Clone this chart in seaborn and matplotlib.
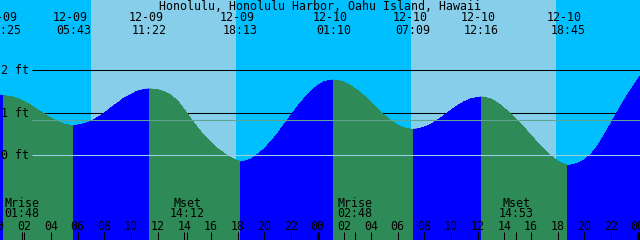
import numpy as np
import pandas as pd
import matplotlib
matplotlib.use("Agg")
import matplotlib.pyplot as plt
import seaborn as sns
from matplotlib.transforms import blended_transform_factory

# ---------------- data ----------------
title = "Honolulu, Honolulu Harbor, Oahu Island, Hawaii"
days = ["12-09", "12-10"]

# water level (ft) every half hour from 12-09 00:00, plus right edge reading
sample_times = [0, 0.5, 1, 1.5, 2, 2.5, 3, 3.5, 4, 4.5, 5, 5.5, 6, 6.5, 7, 7.5,
                8, 8.5, 9, 9.5, 10, 10.5, 11, 11.5, 12, 12.5, 13, 13.5, 14, 14.5,
                15, 15.5, 16, 16.5, 17, 17.5, 18, 18.5, 19, 19.5, 20, 20.5, 21,
                21.5, 22, 22.5, 23, 23.5, 24, 24.5, 25, 25.5, 26, 26.5, 27, 27.5,
                28, 28.5, 29, 29.5, 30, 30.5, 31, 31.5, 32, 32.5, 33, 33.5, 34,
                34.5, 35, 35.5, 36, 36.5, 37, 37.5, 38, 38.5, 39, 39.5, 40, 40.5,
                41, 41.5, 42, 42.5, 43, 43.5, 44, 44.5, 45, 45.5, 46, 46.5, 47,
                47.5, 48, 48.2]
sample_levels = [1.39, 1.40, 1.38, 1.33, 1.26, 1.17, 1.07, 0.97, 0.87, 0.79, 0.73,
                 0.70, 0.71, 0.74, 0.80, 0.89, 0.99, 1.12, 1.23, 1.35, 1.43, 1.51,
                 1.55, 1.56, 1.54, 1.49, 1.41, 1.27, 1.07, 0.85, 0.64, 0.45, 0.29,
                 0.15, 0.04, -0.06, -0.13, -0.14, -0.09, 0.02, 0.15, 0.32, 0.51,
                 0.73, 0.94, 1.15, 1.34, 1.51, 1.64, 1.73, 1.765, 1.76, 1.72, 1.63,
                 1.52, 1.39, 1.24, 1.09, 0.94, 0.81, 0.71, 0.64, 0.61, 0.62, 0.66,
                 0.73, 0.83, 0.94, 1.06, 1.17, 1.26, 1.33, 1.36, 1.365, 1.32, 1.23,
                 1.10, 0.97, 0.81, 0.64, 0.46, 0.29, 0.13, -0.02, -0.14, -0.21,
                 -0.23, -0.19, -0.11, 0.02, 0.22, 0.48, 0.75, 1.03, 1.30, 1.55,
                 1.78, 1.86]

# high / low tide events
tide_day = [0, 0, 0, 0, 1, 1, 1, 1]
tide_clock = ["00:25", "05:43", "11:22", "18:13", "01:10", "07:09", "12:16", "18:45"]
tide_levels = [1.40, 0.70, 1.56, -0.15, 1.77, 0.61, 1.37, -0.24]

# moon events
moon_day = [0, 0, 1, 1]
moon_name = ["Mrise", "Mset", "Mrise", "Mset"]
moon_clock = ["01:48", "14:12", "02:48", "14:53"]

# sun
sunrise_clock = ["07:00", "07:00"]
sunset_clock = ["17:52", "17:52"]

ft_labels = ["2 ft", "1 ft", "0 ft"]
ft_levels = [2, 1, 0]
mean_level = 0.82
hour_labels = ["00", "02", "04", "06", "08", "10", "12", "14", "16", "18", "20", "22"]

# ---------------- style ----------------
NIGHT = "#00BFFF"
DAY = "#87CEEB"
RISE = "#0000FF"
FALL = "#2E8B57"
MSL = "#5fa593"
DATUM = "#9ad0e4"

sns.set_theme(style="white")
plt.rcParams["font.family"] = ["DejaVu Sans Mono", "DejaVu Sans"]
FS = 8.4


def clock_to_h(day, s):
    hh, mm = s.split(":")
    return day * 24 + int(hh) + int(mm) / 60.0


tide_t = [clock_to_h(d, s) for d, s in zip(tide_day, tide_clock)]
moon_t = [clock_to_h(d, s) for d, s in zip(moon_day, moon_clock)]
rise_t = [clock_to_h(i, s) for i, s in enumerate(sunrise_clock)]
set_t = [clock_to_h(i, s) for i, s in enumerate(sunset_clock)]

df = pd.DataFrame({"t": sample_times + tide_t, "level": sample_levels + tide_levels})
df = df.sort_values("t").drop_duplicates("t").reset_index(drop=True)

fig = plt.figure(figsize=(6.4, 2.4), dpi=100)
ax = fig.add_axes([0, 0, 1, 1])
PX_PER_H = 320 / 24.0
X0 = -2.3
t_left = -X0 / PX_PER_H
t_right = (640 - X0) / PX_PER_H
ax.set_xlim(t_left, t_right)
ax.set_ylim((155.3 - 240) / 42.5, 155.3 / 42.5)
ax.set_facecolor(NIGHT)
for s in ax.spines.values():
    s.set_visible(False)

for r, st in zip(rise_t, set_t):
    ax.axvspan(r, st, color=DAY, lw=0, zorder=0)

gutter = t_left + 32 / PX_PER_H
ax.hlines([1, 2], gutter, t_right + 1, color="black", lw=0.75, zorder=1)

# tide fill, split at extremes (blue = rising, green = falling)
bounds = [-np.inf] + tide_t + [np.inf]
for a, b in zip(bounds[:-1], bounds[1:]):
    seg = df[(df.t >= a - 1e-9) & (df.t <= b + 1e-9)]
    if len(seg) < 2:
        continue
    col = RISE if seg.level.iloc[-1] > seg.level.iloc[0] else FALL
    ax.fill_between(seg.t, seg.level, -5, color=col, lw=0, antialiased=False, zorder=2)
    sns.lineplot(data=seg, x="t", y="level", color=col, lw=0.6, ax=ax, zorder=2.5,
                 sort=True, estimator=None)
ax.set_xlabel("")
ax.set_ylabel("")
ax.set_xticks([])
ax.set_yticks([])
ax.set_xlim(t_left, t_right)
ax.set_ylim((155.3 - 240) / 42.5, 155.3 / 42.5)

ax.hlines([mean_level], gutter, t_right + 1, color=MSL, lw=0.75, zorder=4)
ax.hlines([0], gutter, t_right + 1, color=DATUM, lw=0.75, zorder=4)

bt = blended_transform_factory(ax.transData, ax.transAxes)


def yf(py):
    return 1 - py / 240.0


# title
ax.text(0.5, yf(10), title, transform=ax.transAxes, ha="center", va="baseline",
        fontsize=FS, color="black", zorder=6)

# tide event labels
for d, s, t in zip(tide_day, tide_clock, tide_t):
    ax.text(t - 0.25, yf(21), days[d], transform=bt, ha="center", va="baseline",
            fontsize=FS, color="black", zorder=6)
    ax.text(t, yf(34), s, transform=bt, ha="center", va="baseline",
            fontsize=FS, color="black", zorder=6)

# level labels
for lab, lv in zip(ft_labels, ft_levels):
    py = 155.3 - 42.5 * lv + 4
    ax.text(t_left + 1 / PX_PER_H, yf(py), lab, transform=bt, ha="left",
            va="baseline", fontsize=FS, color="black", zorder=6)

# moon labels
for n, s, t in zip(moon_name, moon_clock, moon_t):
    ax.text(t, yf(207), n, transform=bt, ha="center", va="baseline",
            fontsize=FS, color="black", zorder=6)
    ax.text(t, yf(217), s, transform=bt, ha="center", va="baseline",
            fontsize=FS, color="black", zorder=6)

# hour labels and ticks
tick_top = yf(232)
for d in range(len(days)):
    for i, lab in enumerate(hour_labels):
        t = d * 24 + int(lab)
        ax.text(t, yf(230), lab, transform=bt, ha="center", va="baseline",
                fontsize=FS, color="black", zorder=6)
        lw = 2.2 if lab == "00" else 0.75
        ax.vlines(t, 0, tick_top, transform=bt, color="black", lw=lw, zorder=5)
ax.text(48, yf(230), "00", transform=bt, ha="center", va="baseline",
        fontsize=FS, color="black", zorder=6)
ax.vlines(48, 0, tick_top, transform=bt, color="black", lw=2.2, zorder=5)
ax.vlines(moon_t, 0, tick_top, transform=bt, color="black", lw=0.75, zorder=5)

fig.savefig("out.png", dpi=100)
